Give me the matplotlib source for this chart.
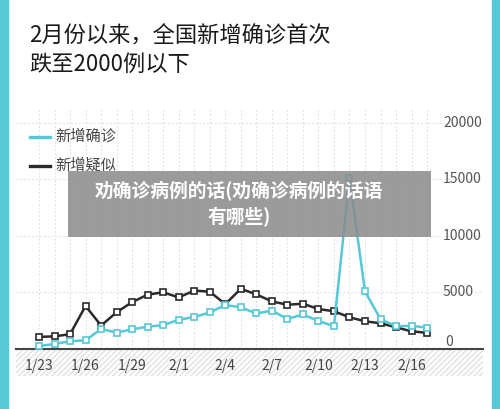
import matplotlib
matplotlib.use("Agg")
import matplotlib.pyplot as plt
import matplotlib.transforms as mtransforms
from matplotlib.patches import Rectangle

plt.rcParams['font.family'] = ['Noto Sans CJK SC', 'DejaVu Sans']
plt.rcParams['hatch.color'] = '#e2e2e2'

dates = ["1/23","1/24","1/25","1/26","1/27","1/28","1/29","1/30","1/31","2/1","2/2","2/3","2/4",
         "2/5","2/6","2/7","2/8","2/9","2/10","2/11","2/12","2/13","2/14","2/15","2/16","2/17"]
confirmed = [259, 444, 688, 769, 1771, 1459, 1737, 1982, 2102, 2590, 2829, 3235, 3887,
             3694, 3143, 3399, 2656, 3062, 2478, 2015, 15152, 5090, 2641, 2009, 2048, 1886]
suspected = [1072, 1118, 1309, 3806, 2077, 3248, 4148, 4812, 5019, 4562, 5173, 5072, 3971,
             5328, 4833, 4214, 3916, 4008, 3536, 3342, 2807, 2450, 2277, 1918, 1563, 1432]
tick_labels = ["1/23", "1/26", "1/29", "2/1", "2/4", "2/7", "2/10", "2/13", "2/16"]
y_ticks = [0, 5000, 10000, 15000, 20000]

W, H = 500, 409
fig = plt.figure(figsize=(W/100, H/100), dpi=100)
fig.patch.set_facecolor('white')
def fx(p): return p / W
def fy(p): return 1 - p / H

cyan = '#56c8d6'
fig.add_artist(Rectangle((0, 0), fx(8), 1, transform=fig.transFigure, color=cyan))
fig.add_artist(Rectangle((fx(492), 0), fx(8), 1, transform=fig.transFigure, color=cyan))

fig.text(fx(29), fy(50), "2月份以来，全国新增确诊首次\n跌至2000例以下", fontsize=16,
         color='#1a1a1a', va='center', ha='left', linespacing=1.3, fontweight='medium')

hat = Rectangle((fx(16), fy(376)), fx(467), (376-349)/H, transform=fig.transFigure,
                facecolor='white', edgecolor='#e2e2e2', hatch='//////', linewidth=0, zorder=-1)
fig.add_artist(hat)

ax = fig.add_axes([fx(16), fy(349), fx(467), (349-110)/H])
ax.set_facecolor('none')
x = list(range(len(dates)))
ax.set_xlim(-1.48, 28.6)
ax.set_ylim(0, 21150)
for xi in x:
    ax.axvline(xi, color='#e0e0e0', lw=0.7, ls=(0, (2, 2)), zorder=0)
for yt in y_ticks[1:]:
    ax.axhline(yt, color='#e0e0e0', lw=0.7, ls=(0, (2, 2)), zorder=0)

ax.plot(x, confirmed, color=cyan, lw=1.8, marker='s', ms=4.5, mfc='white', mec=cyan, mew=1.2, zorder=3)
ax.plot(x, suspected, color='#2a2a2a', lw=1.8, marker='s', ms=4.5, mfc='white', mec='#2a2a2a', mew=1.2, zorder=2)

for s in ['top', 'right', 'left']:
    ax.spines[s].set_visible(False)
ax.spines['bottom'].set_color('#444444')
ax.spines['bottom'].set_linewidth(1.5)
ax.set_yticks([])
ax.set_xticks([dates.index(t) for t in tick_labels])
ax.set_xticklabels(tick_labels, fontsize=10, color='#444444')
ax.tick_params(axis='x', length=0, pad=7)

trans = mtransforms.blended_transform_factory(fig.transFigure, ax.transData)
for yt in y_ticks:
    ax.text(fx(443) if yt else fx(445), yt, str(yt), transform=trans, fontsize=10, color='#555555',
            ha='left', va='center' if yt else 'bottom')

fig.add_artist(plt.Line2D([fx(30), fx(50)], [fy(137), fy(137)], color=cyan, lw=2.4, transform=fig.transFigure))
fig.add_artist(plt.Line2D([fx(30), fx(50)], [fy(166), fy(166)], color='#2a2a2a', lw=2.4, transform=fig.transFigure))
fig.text(fx(55), fy(136), "新增确诊", fontsize=11, color='#444444', va='center')
fig.text(fx(55), fy(165), "新增疑似", fontsize=11, color='#444444', va='center')

fig.add_artist(Rectangle((fx(68), fy(237)), (431-68)/W, (237-171)/H, transform=fig.transFigure,
                         facecolor='#8a8a8a', alpha=0.85, edgecolor='none', zorder=5))
fig.text(fx(239), fy(204), "劝确诊病例的话(劝确诊病例的话语\n有哪些)", fontsize=13.5, color='white',
         fontweight='bold', ha='center', va='center', linespacing=1.4, zorder=6)

fig.savefig("out.png", dpi=100)
